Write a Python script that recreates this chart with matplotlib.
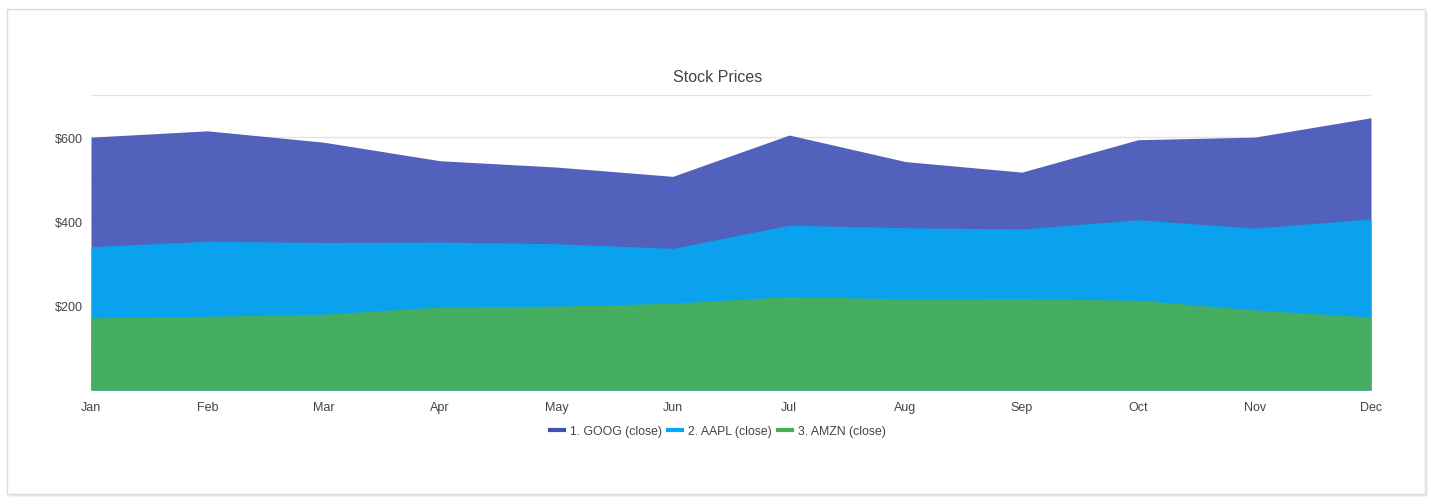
"""Stacked area chart of monthly closing stock prices."""

import matplotlib.pyplot as plt
from matplotlib.lines import Line2D
from matplotlib.patches import Rectangle

plt.rcParams["font.family"] = ["Liberation Sans", "DejaVu Sans"]

MONTHS = ["Jan", "Feb", "Mar", "Apr", "May", "Jun",
          "Jul", "Aug", "Sep", "Oct", "Nov", "Dec"]
AMZN = [171, 175, 180, 197, 199, 206, 222, 216, 217, 213, 190, 173]
AAPL = [169, 178, 170, 154, 148, 130, 169, 169, 165, 191, 194, 233]
GOOG = [260, 262, 238, 193, 182, 171, 214, 157, 135, 190, 216, 240]

LABELS = ["1. GOOG (close)", "2. AAPL (close)", "3. AMZN (close)"]
COLORS = ["#3F51B5", "#03A9F4", "#4CAF50"]
Y_TICKS = [200, 400, 600]
Y_MAX = 700

fig = plt.figure(figsize=(14.33, 5.02), dpi=100)

# card background with a light border and soft shadow
W, H = 1433, 502
for off, col in [(3, "#f2f2f2"), (2, "#e9e9e9"), (1, "#e2e2e2")]:
    fig.patches.append(Rectangle(((7 + off) / W, 1 - (495 + off) / H),
                                 1418 / W, 485 / H, transform=fig.transFigure,
                                 facecolor=col, edgecolor="none", zorder=0))
fig.patches.append(Rectangle((7 / W, 1 - 495 / H), 1418 / W, 485 / H,
                             transform=fig.transFigure, facecolor="white",
                             edgecolor="#dcdcdc", linewidth=1, zorder=1))

ax = fig.add_axes([91 / W, 1 - 391 / H, 1280 / W, 295 / H])
ax.set_zorder(2)
ax.patch.set_alpha(0)

x = list(range(len(MONTHS)))
bottom_layer = AMZN
middle_layer = [a + b for a, b in zip(AMZN, AAPL)]
top_layer = [a + g for a, g in zip(middle_layer, GOOG)]

# each layer filled from zero, later ones drawn over earlier ones
for cum, color in zip([top_layer, middle_layer, bottom_layer], COLORS):
    ax.fill_between(x, 0, cum, color=color, alpha=0.9, linewidth=0, zorder=2)

ax.set_xlim(0, len(MONTHS) - 1)
ax.set_ylim(0, Y_MAX)
for val in range(100, Y_MAX + 1, 100):
    ax.axhline(val, color="#e3e3e3", linewidth=1, zorder=1)

ax.set_xticks(x)
ax.set_xticklabels(MONTHS)
ax.set_yticks(Y_TICKS)
ax.set_yticklabels([f"${v}" for v in Y_TICKS])
ax.tick_params(length=0, labelsize=9, colors="#444444")
ax.tick_params(axis="x", pad=8)
ax.tick_params(axis="y", pad=6)
for spine in ax.spines.values():
    spine.set_visible(False)

fig.text(718 / W, 1 - 77 / H, "Stock Prices", ha="center", va="center",
         fontsize=11.5, color="#444444")

handles = [Line2D([], [], color=c, linewidth=3) for c in COLORS]
fig.legend(handles, LABELS, loc="center", bbox_to_anchor=(718 / W, 1 - 432 / H),
           ncol=3, frameon=False, fontsize=8.8, handlelength=1.15,
           handletextpad=0.45, columnspacing=0.55, labelcolor="#444444")

fig.savefig("out.png", dpi=100)
